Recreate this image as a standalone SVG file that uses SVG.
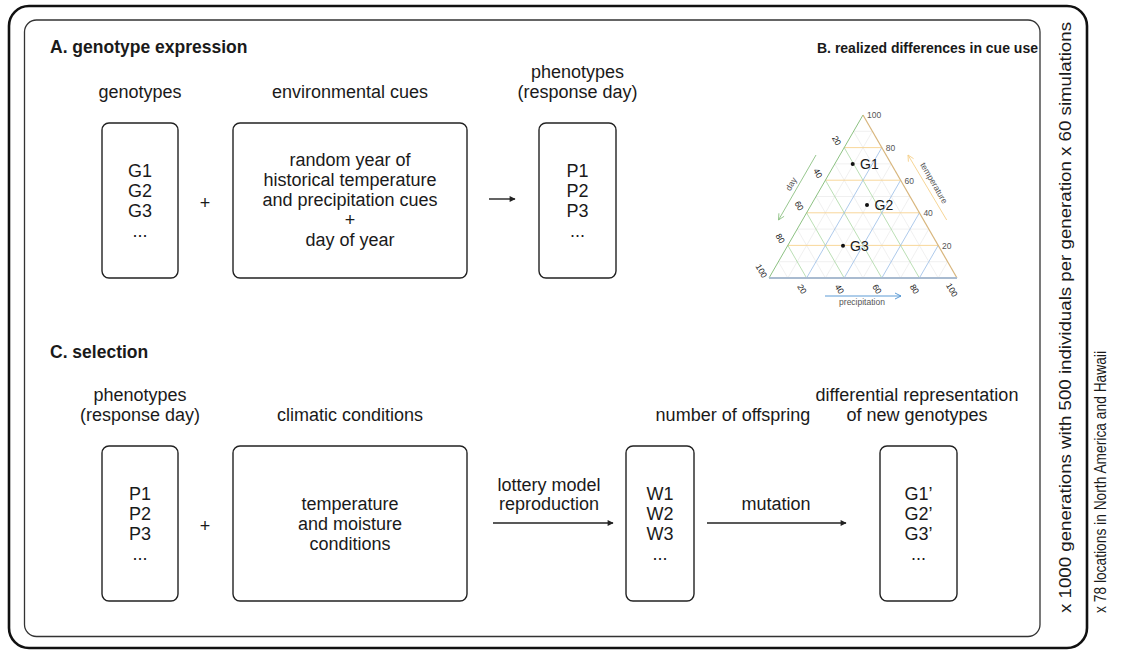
<svg xmlns="http://www.w3.org/2000/svg" width="1121" height="653" viewBox="0 0 1121 653">
<style>
text{font-family:"Liberation Sans",Arial,sans-serif;fill:#1a1a1a}
.lb{font-size:18px;text-anchor:middle}
.tt{font-size:17.5px;font-weight:bold}
.box{fill:none;stroke:#222;stroke-width:1.4}
.conn{stroke:#222;stroke-width:1.4;fill:none}
.tick{font-size:8.5px;fill:#555}
.minor{stroke:#e6e6e6;stroke-width:0.6}
.og{stroke:#f7d38f;stroke-width:0.9}
.gg{stroke:#a9d7a2;stroke-width:0.8}
.bg{stroke:#99bde6;stroke-width:0.8}
.vt{font-size:17px}
</style>
<defs>
<marker id="ah" viewBox="0 0 10 10" refX="9" refY="5" markerWidth="7" markerHeight="6" markerUnits="userSpaceOnUse" orient="auto"><path d="M0,0 L10,5 L0,10 z" fill="#222"/></marker>
</defs>
<rect x="9" y="6" width="1078" height="642" rx="20" fill="none" stroke="#111" stroke-width="2.6"/>
<rect x="24.5" y="20" width="1015.5" height="616.5" rx="12" fill="none" stroke="#333" stroke-width="1.3"/>

<text class="tt" x="50" y="53">A. genotype expression</text>
<text class="tt" x="817" y="53" style="font-size:14px">B. realized differences in cue use</text>
<text class="tt" x="50" y="358">C. selection</text>

<g id="genotypes">
<text class="lb" x="140" y="98">genotypes</text>
<rect class="box" x="102" y="123" width="76" height="155" rx="7"/>
<text class="lb" x="140" y="177">G1</text><text class="lb" x="140" y="197">G2</text><text class="lb" x="140" y="217">G3</text><text class="lb" x="140" y="237">...</text>
</g>
<text class="lb" x="205" y="209">+</text>
<g id="env-cues">
<text class="lb" x="350" y="98">environmental cues</text>
<rect class="box" x="233" y="123" width="234" height="155" rx="7"/>
<text class="lb" x="350" y="166">random year of</text>
<text class="lb" x="350" y="186">historical temperature</text>
<text class="lb" x="350" y="206">and precipitation cues</text>
<text class="lb" x="350" y="226">+</text>
<text class="lb" x="350" y="246">day of year</text>
</g>
<g id="phenotypes-a">
<text class="lb" x="577.5" y="78">phenotypes</text>
<text class="lb" x="577.5" y="98">(response day)</text>
<rect class="box" x="539" y="123" width="77" height="155" rx="7"/>
<text class="lb" x="577.5" y="177">P1</text><text class="lb" x="577.5" y="197">P2</text><text class="lb" x="577.5" y="217">P3</text><text class="lb" x="577.5" y="237">...</text>
</g>

<g id="phenotypes-c">
<text class="lb" x="140" y="401">phenotypes</text>
<text class="lb" x="140" y="421">(response day)</text>
<rect class="box" x="102" y="446" width="76" height="155" rx="7"/>
<text class="lb" x="140" y="500">P1</text><text class="lb" x="140" y="520">P2</text><text class="lb" x="140" y="540">P3</text><text class="lb" x="140" y="560">...</text>
</g>
<text class="lb" x="205" y="532">+</text>
<g id="climate">
<text class="lb" x="350" y="421">climatic conditions</text>
<rect class="box" x="233" y="446" width="234" height="155" rx="7"/>
<text class="lb" x="350" y="510">temperature</text>
<text class="lb" x="350" y="530">and moisture</text>
<text class="lb" x="350" y="550">conditions</text>
</g>
<g id="offspring">
<text class="lb" x="733" y="421">number of offspring</text>
<rect class="box" x="626" y="446" width="68" height="155" rx="7"/>
<text class="lb" x="660" y="500">W1</text><text class="lb" x="660" y="520">W2</text><text class="lb" x="660" y="540">W3</text><text class="lb" x="660" y="560">...</text>
</g>
<g id="new-genotypes">
<text class="lb" x="917" y="401">differential representation</text>
<text class="lb" x="917" y="421">of new genotypes</text>
<rect class="box" x="880" y="446" width="77" height="155" rx="7"/>
<text class="lb" x="918.5" y="500">G1’</text><text class="lb" x="918.5" y="520">G2’</text><text class="lb" x="918.5" y="540">G3’</text><text class="lb" x="918.5" y="560">...</text>
</g>

<g id="connectors">
<line class="conn" x1="489" y1="199" x2="515" y2="199" marker-end="url(#ah)"/>
<line class="conn" x1="493" y1="523" x2="613" y2="523" marker-end="url(#ah)"/>
<line class="conn" x1="707" y1="523" x2="846" y2="523" marker-end="url(#ah)"/>
<text class="lb" x="549" y="491">lottery model</text>
<text class="lb" x="549" y="510">reproduction</text>
<text class="lb" x="776" y="510">mutation</text>
</g>

<g id="ternary">
<g class="minor">
<line x1="778.4" y1="261.7" x2="947.6" y2="261.7"/><line x1="797.2" y1="229.1" x2="928.8" y2="229.1"/><line x1="816" y1="196.5" x2="910" y2="196.5"/><line x1="834.8" y1="163.9" x2="891.2" y2="163.9"/><line x1="853.6" y1="131.3" x2="872.4" y2="131.3"/>
<line x1="853.6" y1="131.3" x2="938.2" y2="278"/><line x1="834.8" y1="163.9" x2="900.6" y2="278"/><line x1="816" y1="196.5" x2="863" y2="278"/><line x1="797.2" y1="229.1" x2="825.4" y2="278"/><line x1="778.4" y1="261.7" x2="787.8" y2="278"/>
<line x1="787.8" y1="278" x2="872.4" y2="131.3"/><line x1="825.4" y1="278" x2="891.2" y2="163.9"/><line x1="863" y1="278" x2="910" y2="196.5"/><line x1="900.6" y1="278" x2="928.8" y2="229.1"/><line x1="938.2" y1="278" x2="947.6" y2="261.7"/>
</g>
<g class="og">
<line x1="787.8" y1="245.4" x2="938.2" y2="245.4"/><line x1="806.6" y1="212.8" x2="919.4" y2="212.8"/><line x1="825.4" y1="180.2" x2="900.6" y2="180.2"/><line x1="844.2" y1="147.6" x2="881.8" y2="147.6"/>
</g>
<g class="gg">
<line x1="844.2" y1="147.6" x2="919.4" y2="278"/><line x1="825.4" y1="180.2" x2="881.8" y2="278"/><line x1="806.6" y1="212.8" x2="844.2" y2="278"/><line x1="787.8" y1="245.4" x2="806.6" y2="278"/>
</g>
<g class="bg">
<line x1="806.6" y1="278" x2="881.8" y2="147.6"/><line x1="844.2" y1="278" x2="900.6" y2="180.2"/><line x1="881.8" y1="278" x2="919.4" y2="212.8"/><line x1="919.4" y1="278" x2="938.2" y2="245.4"/>
</g>
<line x1="769" y1="278" x2="863" y2="115" stroke="#8cc182" stroke-width="1"/>
<line x1="863" y1="115" x2="957" y2="278" stroke="#d8b67d" stroke-width="1.2"/>
<line x1="769" y1="278" x2="957" y2="278" stroke="#a9bbd0" stroke-width="2"/>

<text class="tick" x="867" y="118">100</text><text class="tick" x="885.8" y="151">80</text><text class="tick" x="904.6" y="183.5">60</text><text class="tick" x="923.4" y="216">40</text><text class="tick" x="942" y="249">20</text>
<g class="tick" text-anchor="middle">
<text transform="translate(836.7,140.6) rotate(60)" y="3">20</text>
<text transform="translate(817.9,173.2) rotate(60)" y="3">40</text>
<text transform="translate(799.1,205.8) rotate(60)" y="3">60</text>
<text transform="translate(780.3,238.4) rotate(60)" y="3">80</text>
<text transform="translate(761.5,271) rotate(60)" y="3">100</text>
<text transform="translate(802,289) rotate(60)" y="3">20</text>
<text transform="translate(839.5,289) rotate(60)" y="3">40</text>
<text transform="translate(877,289) rotate(60)" y="3">60</text>
<text transform="translate(914.5,289) rotate(60)" y="3">80</text>
<text transform="translate(952,290) rotate(60)" y="3">100</text>
</g>
<g fill="none" stroke-width="0.9">
<line x1="816" y1="155" x2="778.5" y2="220" stroke="#8cc182"/>
<polyline points="784.1,216.3 778.5,220 778.9,213.3" stroke="#8cc182"/>
<line x1="946.7" y1="220" x2="908" y2="155" stroke="#f5d08a"/>
<polyline points="913.6,158.7 908,155 908.4,161.7" stroke="#f5d08a"/>
<line x1="825" y1="296" x2="901" y2="296" stroke="#4a90d0"/>
<polyline points="895,293 901,296 895,299" stroke="#4a90d0"/>
</g>
<text class="tick" text-anchor="middle" transform="translate(791,184) rotate(-60)" y="3" font-size="9">day</text>
<text class="tick" text-anchor="middle" transform="translate(934,183) rotate(60)" y="3" font-size="9">temperature</text>
<text class="tick" x="862" y="305" text-anchor="middle" font-size="9">precipitation</text>
<g fill="#111"><circle cx="852.7" cy="164" r="2"/><circle cx="867" cy="205" r="2"/><circle cx="843" cy="245.7" r="2"/></g>
<g font-size="14"><text x="860" y="169">G1</text><text x="874.5" y="210">G2</text><text x="850" y="250.7">G3</text></g>
</g>

<text class="vt" textLength="591" lengthAdjust="spacingAndGlyphs" transform="translate(1071,613) rotate(-90)">x 1000 generations with 500 individuals per generation x 60 simulations</text>
<text class="vt" textLength="262" lengthAdjust="spacingAndGlyphs" transform="translate(1106,613) rotate(-90)">x 78 locations in North America and Hawaii</text>
</svg>
